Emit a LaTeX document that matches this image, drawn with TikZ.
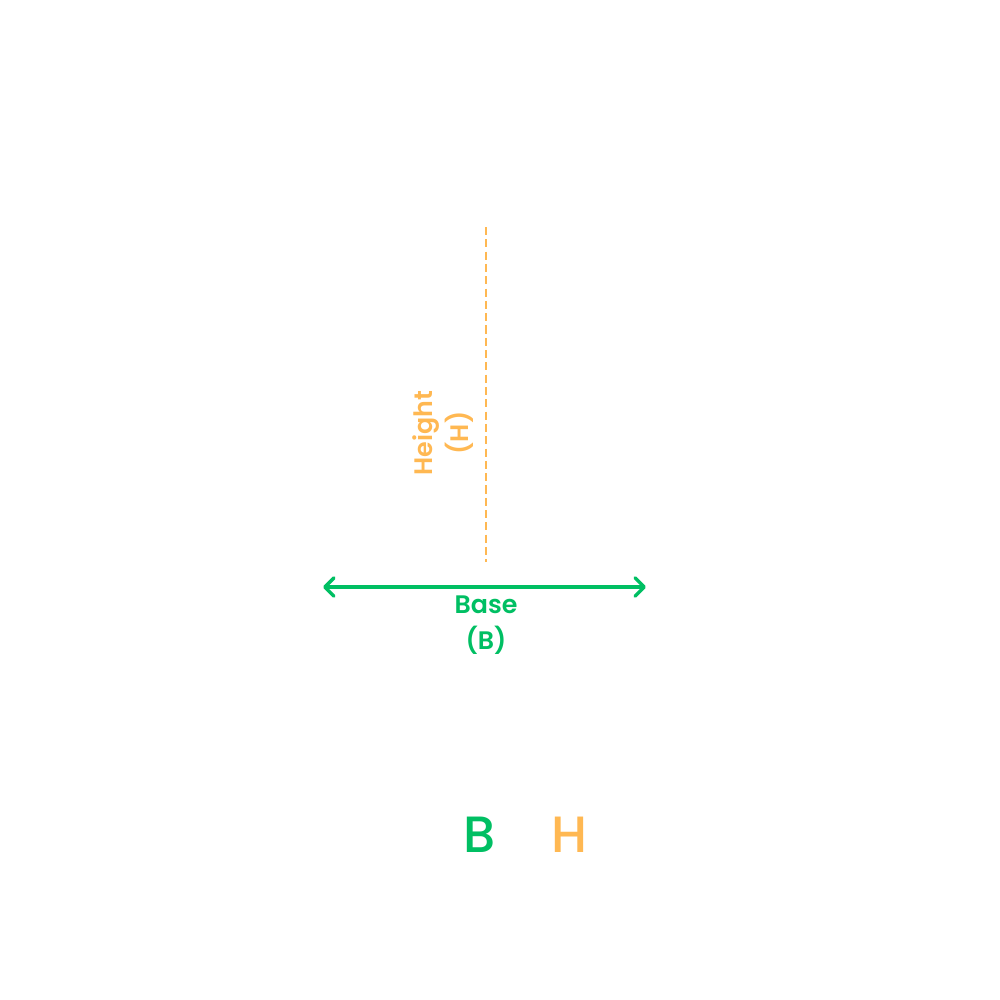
\documentclass[tikz,border=0pt]{standalone}
\usepackage{fontspec}
\setmainfont{Poppins}
\newfontfamily\popsb{Poppins SemiBold}
\newfontfamily\popmd{Poppins Medium}
\usetikzlibrary{arrows.meta}
\definecolor{gr}{RGB}{0,191,99}
\definecolor{og}{RGB}{255,184,82}
\begin{document}
\begin{tikzpicture}[x=0.01cm,y=-0.01cm,
  lbl/.style={inner sep=0pt, align=center, font=\popsb\fontsize{7.2pt}{10.2pt}\selectfont},
  big/.style={inner sep=0pt, font=\popmd\fontsize{14.5pt}{16pt}\selectfont}]
\useasboundingbox[fill=white] (0,0) rectangle (1000,1000);
\coordinate (ht) at (486,227);
\coordinate (hb) at (486,562);
\draw[og, line width=0.8pt, dash pattern=on 2.3pt off 1.2pt] (ht) -- (hb);
\coordinate (bl) at (323,587);
\coordinate (br) at (646,587);
\draw[gr, line width=1pt, line cap=round, {Straight Barb[round,length=2.6pt,width=5.2pt]}-{Straight Barb[round,length=2.6pt,width=5.2pt]}] (bl) -- (br);
\node[lbl, text=gr] (base) at (486,625) {Base\\(B)};
\node[lbl, text=og, rotate=90] (height) at (443,433) {Height\\(H)};
\node[big, text=gr] (B) at (480,835) {B};
\node[big, text=og] (H) at (569,835) {H};
\end{tikzpicture}
\end{document}
